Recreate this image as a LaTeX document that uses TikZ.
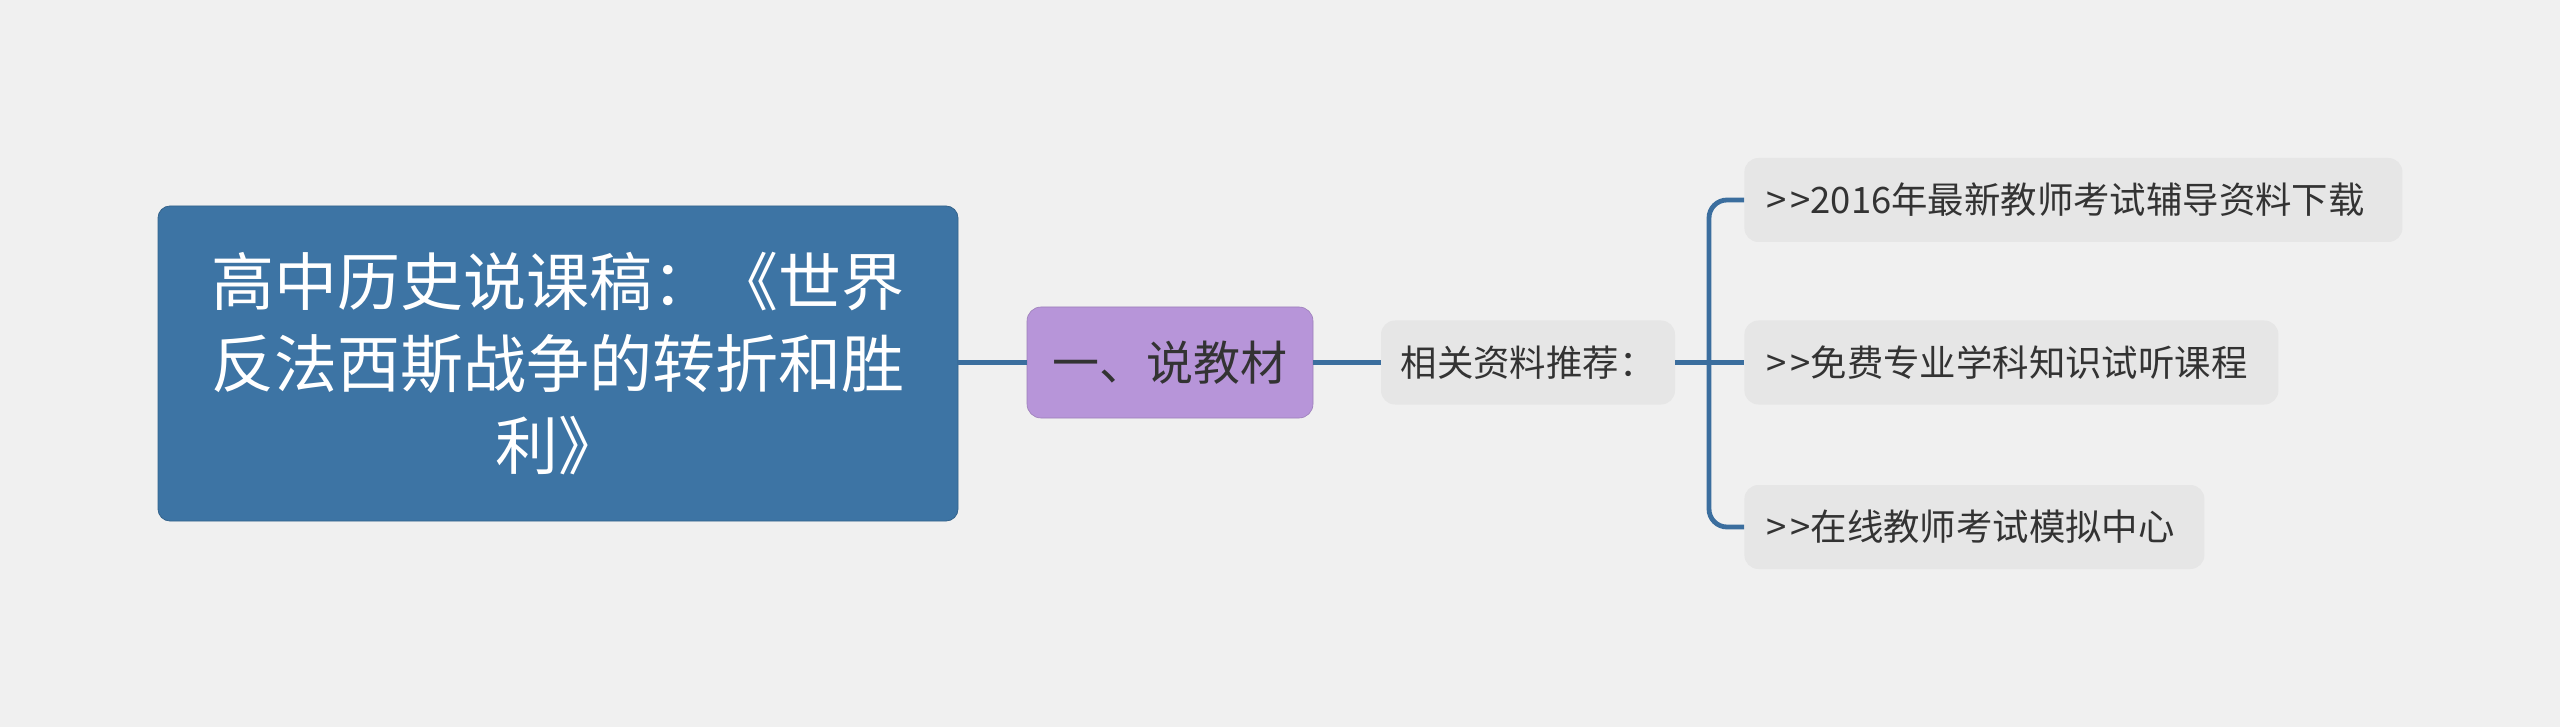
\documentclass[tikz,border=0pt]{standalone}
\usepackage{fontspec}
\newfontfamily\cjk{Noto Sans CJK SC}
\definecolor{bg}{HTML}{F0F0F0}
\definecolor{rootblue}{HTML}{3D74A4}
\definecolor{linkblue}{HTML}{3B6E9E}
\definecolor{purp}{HTML}{B795D9}
\definecolor{grayn}{HTML}{E6E6E6}
\definecolor{txt}{HTML}{333333}
\newcommand{\mygtgt}{>\kern2pt>}
\begin{document}
\begin{tikzpicture}[x=0.5pt,y=-0.5pt,
  rootbox/.style={draw=rootblue!85!black, line width=0.4pt, fill=rootblue, rounded corners=6pt, text=white,
     minimum width=400pt, minimum height=157.5pt, align=center, inner sep=0pt,
     font=\cjk\fontsize{31.5}{41}\selectfont},
  subbox/.style={draw=purp!85!black, line width=0.3pt, fill=purp, rounded corners=7pt, text=txt,
     minimum width=143pt, minimum height=55.5pt, inner sep=0pt,
     font=\cjk\fontsize{23.5}{28}\selectfont},
  graybox/.style={fill=grayn, rounded corners=7pt, text=txt, minimum height=42pt, inner ysep=0pt,
     font=\cjk\fontsize{18.2}{22}\selectfont},
  leaf/.style={graybox, anchor=west, inner xsep=11pt},
  link/.style={draw=linkblue, line width=2.4pt}
]
\fill[bg] (0,0) rectangle (2560,727);
\useasboundingbox (0,0) rectangle (2560,727);

\node[rootbox] (root) at (558,363.5) {高中历史说课稿：《世界\\反法西斯战争的转折和胜\\利》};
\node[subbox] (sub) at (1170,362.5) {一、说教材};
\node[graybox, minimum width=147pt, inner xsep=0pt] (mid) at (1528,362.5) {相关资料推荐：};

\node[leaf] (l1) at (1744,200) {\makebox[307pt][l]{\mygtgt{}2016年最新教师考试辅导资料下载}};
\node[leaf] (l2) at (1744,362.5) {\makebox[245pt][l]{\mygtgt{}免费专业学科知识试听课程}};
\node[leaf] (l3) at (1744,527) {\makebox[208pt][l]{\mygtgt{}在线教师考试模拟中心}};

\coordinate (bx) at (1709,362.5);

\draw[link] (root.east |- sub.west) -- (sub.west);
\draw[link] (sub.east) -- (mid.west);
\draw[link] (mid.east) -- (l2.west);
\draw[link, rounded corners=9pt] (l1.west) -- (bx |- l1.west) -- (bx |- l3.west) -- (l3.west);
\end{tikzpicture}
\end{document}
